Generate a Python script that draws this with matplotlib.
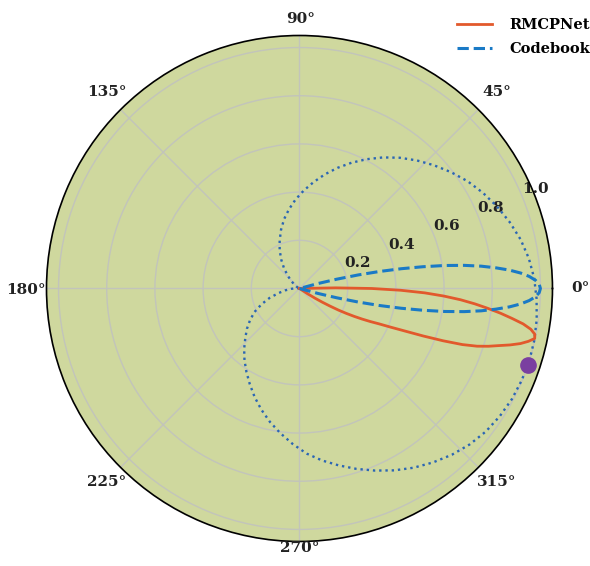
import numpy as np
import matplotlib
matplotlib.use("Agg")
import matplotlib.pyplot as plt

# ---------------- data (angles in degrees, radius normalised gain) ----------------
# RMCPNet beam (solid orange)
theta_rmcp = [2, 1, 0, -1, -2, -3, -4, -5, -6, -7, -8, -9, -10, -11, -12, -13, -14,
              -15, -16, -17, -18, -19, -20, -21, -22, -23, -24, -25, -26, -27, -28,
              -29, -30, -31, -32, -33, -34]
r_rmcp = [0.0, 0.15, 0.30, 0.42, 0.52, 0.60, 0.67, 0.73, 0.785, 0.84, 0.89, 0.94,
          0.975, 0.995, 0.998, 0.975, 0.945, 0.905, 0.86, 0.82, 0.775, 0.715, 0.635,
          0.55, 0.47, 0.41, 0.36, 0.325, 0.29, 0.255, 0.22, 0.185, 0.145, 0.11, 0.075,
          0.04, 0.0]

# Codebook beam (dashed blue)
theta_code = [-16, -15, -14, -13, -12, -11, -10, -9, -8, -7, -6, -5, -4, -3, -2, -1, 0,
              1, 2, 3, 4, 5, 6, 7, 8, 9, 10, 11, 12, 13, 14, 15, 16]
r_code = [0.0, 0.08, 0.16, 0.25, 0.34, 0.43, 0.52, 0.61, 0.69, 0.76, 0.82, 0.875, 0.92,
          0.955, 0.98, 0.995, 1.0, 0.995, 0.98, 0.955, 0.92, 0.875, 0.82, 0.76, 0.69,
          0.61, 0.52, 0.43, 0.34, 0.25, 0.16, 0.08, 0.0]

# Reference (ideal) pattern (dotted blue)
theta_ideal = [-197.5, -192.5, -187.5, -182.5, -177.5, -172.5, -167.5, -162.5, -157.5,
               -152.5, -147.5, -142.5, -137.5, -132.5, -127.5, -122.5, -117.5, -112.5,
               -107.5, -102.5, -97.5, -92.5, -87.5, -82.5, -77.5, -72.5, -67.5, -62.5,
               -57.5, -52.5, -47.5, -42.5, -37.5, -32.5, -27.5, -22.5, -17.5, -12.5,
               -7.5, -2.5, 2.5, 7.5, 12.5, 17.5, 22.5, 27.5, 32.5, 37.5, 42.5, 47.5,
               52.5, 57.5, 62.5, 67.5, 72.5, 77.5, 82.5, 87.5, 92.5, 97.5, 102.5, 107.5,
               112.5, 117.5, 122.5, 127.5, 132.5, 137.5, 142.5, 147.5, 152.5, 157.5,
               162.5]
r_ideal = [0.000, 0.002, 0.008, 0.018, 0.035, 0.060, 0.090, 0.130, 0.170, 0.210, 0.243,
           0.275, 0.305, 0.340, 0.375, 0.410, 0.447, 0.487, 0.527, 0.567, 0.606, 0.646,
           0.686, 0.720, 0.752, 0.785, 0.818, 0.851, 0.882, 0.910, 0.936, 0.958, 0.975,
           0.986, 0.994, 0.998, 1.000, 0.998, 0.993, 0.985, 0.975, 0.960, 0.940, 0.915,
           0.888, 0.859, 0.828, 0.793, 0.757, 0.721, 0.684, 0.645, 0.605, 0.565, 0.525,
           0.485, 0.445, 0.407, 0.370, 0.332, 0.295, 0.255, 0.215, 0.178, 0.140, 0.105,
           0.072, 0.046, 0.027, 0.014, 0.006, 0.002, 0.000]

# User location marker
user_theta = [-18.5]
user_r = [1.0]

r_ticks = [0.2, 0.4, 0.6, 0.8, 1.0]
r_tick_labels = ["0.2", "0.4", "0.6", "0.8", "1.0"]
theta_ticks = [0, 45, 90, 135, 180, 225, 270, 315]
theta_tick_labels = ["0°", "45°", "90°", "135°", "180°", "225°", "270°", "315°"]
series_names = ["RMCPNet", "Codebook"]

# layout: offset (points) of each angle label from the outer rim
theta_label_offsets = [(20, 0), (13.4, 12.7), (1, 11.9), (-9.8, 12.7),
                       (-14.8, -1), (-9.8, -10.5), (0.4, -5), (13.4, -10.5)]

# ---------------- style ----------------
plt.rcParams['font.family'] = ['DejaVu Serif']
plt.rcParams['font.weight'] = 'bold'

fig = plt.figure(figsize=(5.9, 5.66), dpi=100)
ax = fig.add_axes([0.0788, 0.0433, 0.8576, 0.894], projection='polar')
ax.set_facecolor('#cfd89e')

ax.plot(np.deg2rad(theta_ideal), r_ideal, linestyle=':', color='#2b66b4', lw=1.7, zorder=3)
ax.plot(np.deg2rad(theta_rmcp), r_rmcp, '-', color='#e2592c', lw=2.0, label=series_names[0], zorder=4)
ax.plot(np.deg2rad(theta_code), r_code, '--', color='#1a7ac6', lw=2.2, label=series_names[1], zorder=5)
ax.plot(np.deg2rad(user_theta), user_r, 'o', color='#7a3fa0', ms=11, mec='#7a3fa0', zorder=6)

rmax = 1.05
ax.set_rlim(0, rmax)
ax.set_rticks(r_ticks)
ax.set_yticklabels(r_tick_labels, fontsize=11, fontweight='bold', color='#222222')
ax.set_thetagrids(theta_ticks, [''] * len(theta_ticks))
for th, lab, off in zip(theta_ticks, theta_tick_labels, theta_label_offsets):
    ax.annotate(lab, xy=(np.deg2rad(th), rmax), xycoords='data',
                xytext=off, textcoords='offset points', ha='center', va='center',
                fontsize=11, fontweight='bold', color='#222222', annotation_clip=False)
ax.grid(True, color='#c2c4bb', lw=1.0)
ax.spines['polar'].set_color('black')
ax.spines['polar'].set_linewidth(1.2)

fig.legend(loc='upper right', bbox_to_anchor=(1.022, 0.991), frameon=False,
           prop={'family': 'DejaVu Serif', 'weight': 'bold', 'size': 10.5},
           handlelength=2.4, handletextpad=1.2, labelspacing=0.65)

fig.savefig('out.png', dpi=100)
